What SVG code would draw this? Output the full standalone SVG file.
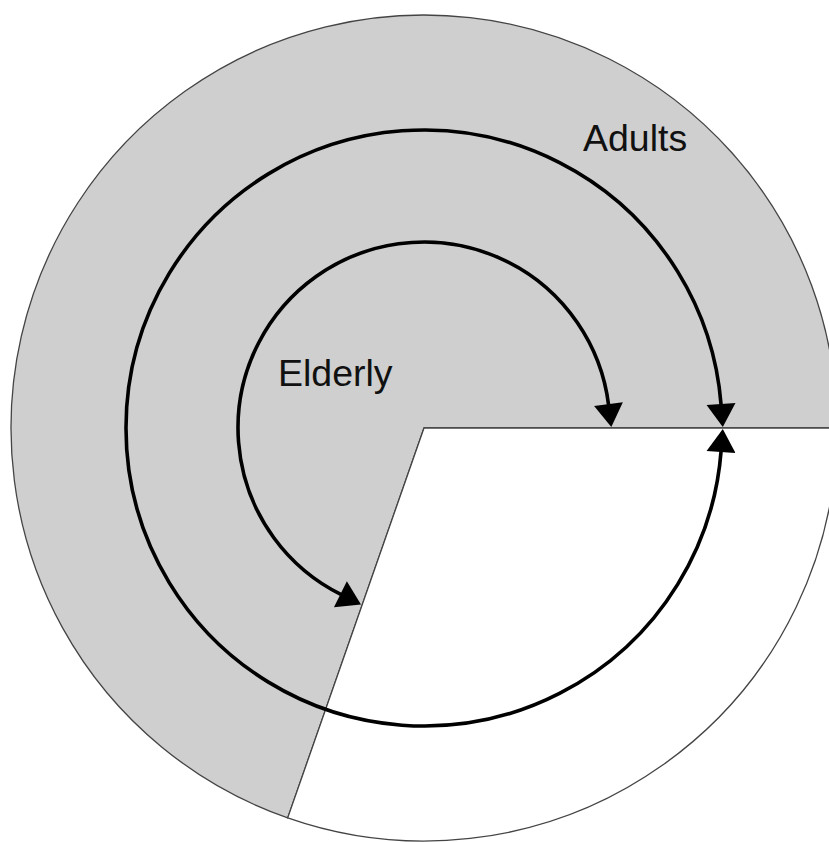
<svg xmlns="http://www.w3.org/2000/svg" width="829" height="842" viewBox="0 0 829 842">
  <style>
    .edge { stroke: #444; stroke-width: 1.3; }
    .gray { fill: #cfcfcf; }
    .white { fill: #ffffff; }
    .arc { fill: none; stroke: #000; stroke-width: 3.6; marker-start: url(#arrow); marker-end: url(#arrow); }
    .label { font-family: "Liberation Sans", Arial, Helvetica, sans-serif; font-size: 37.5px; fill: #111; }
  </style>
  <defs>
    <marker id="arrow" markerUnits="userSpaceOnUse" markerWidth="30" markerHeight="32" refX="1" refY="14.5" orient="auto-start-reverse" overflow="visible">
      <path d="M0,0 L23,14.5 L0,29 z" fill="#000"/>
    </marker>
  </defs>
  <rect width="829" height="842" fill="#ffffff"/>
  <g id="sectors">
    <path id="gray-sector" class="edge gray" d="M424,428 L287.7,817.9 A413,413 0 1 1 837,428 Z"/>
    <path id="white-sector" class="edge white" d="M424,428 L837,428 A413,413 0 0 1 287.7,817.9 Z"/>
  </g>
  <g id="connectors">
    <path id="adults-arc" class="arc" d="M721.1,405.0 A298,298 0 1 0 721.1,451.0"/>
    <path id="elderly-arc" class="arc" d="M608.6,405.1 A186,186 0 1 0 341.3,594.6"/>
  </g>
  <g id="adults">
    <text class="label" x="583" y="150.5">Adults</text>
  </g>
  <g id="elderly">
    <text class="label" x="278" y="386">Elderly</text>
  </g>
</svg>
